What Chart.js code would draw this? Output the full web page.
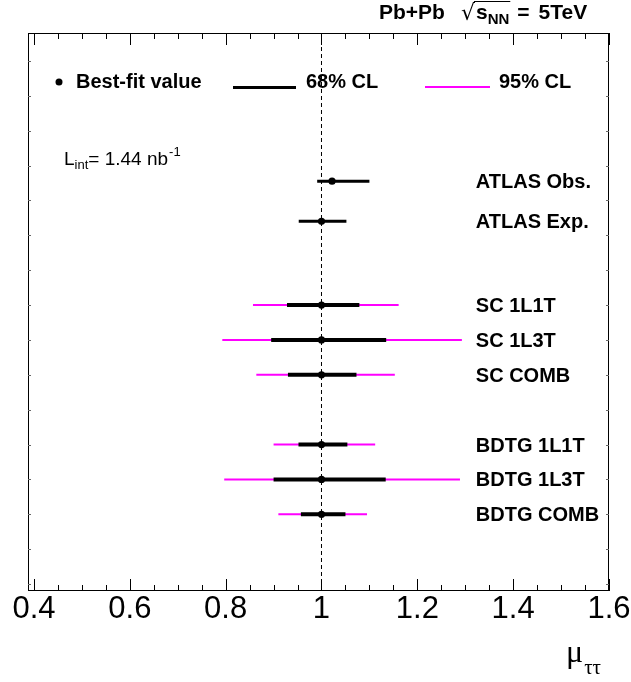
<!DOCTYPE html>
<html>
<head>
<meta charset="utf-8">
<script src="https://cdn.jsdelivr.net/npm/chart.js@4"></script>
<style>
html,body{margin:0;padding:0;background:#fff;}
#wrap{width:631px;height:682px;}
</style>
</head>
<body>
<div id="wrap"><canvas id="c" width="631" height="682"></canvas></div>
<script>
// ---- data ----
const rowLabels = ['ATLAS Obs.', 'ATLAS Exp.', 'SC 1L1T', 'SC 1L3T', 'SC COMB', 'BDTG 1L1T', 'BDTG 1L3T', 'BDTG COMB'];
const rowPos    = [4.25, 5.4, 7.8, 8.8, 9.8, 11.8, 12.8, 13.8];
const bestFit   = [1.022, 1.0, 1.0, 1.0, 1.0, 1.0, 1.0, 1.0];
const lo68      = [0.991, 0.9525, 0.928, 0.895, 0.930, 0.952, 0.900, 0.957];
const hi68      = [1.100, 1.052, 1.079, 1.135, 1.073, 1.054, 1.134, 1.050];
const lo95      = [null, null, 0.857, 0.793, 0.864, 0.900, 0.797, 0.910];
const hi95      = [null, null, 1.161, 1.293, 1.153, 1.112, 1.289, 1.095];
const xTickValues = [0.4, 0.6, 0.8, 1.0, 1.2, 1.4, 1.6];
const xTickLabels = ['0.4', '0.6', '0.8', '1', '1.2', '1.4', '1.6'];
const xMin = 0.3875, xMax = 1.6, yMin = 0, yMax = 16;
const refValue = 1.0;

// ---- build datasets ----
function segs(lo, hi, idx) {
  const out = [];
  idx.forEach(i => {
    if (lo[i] == null || hi[i] == null) return;
    out.push({x: lo[i], y: rowPos[i]}, {x: hi[i], y: rowPos[i]}, {x: hi[i], y: null});
  });
  return out;
}
const allIdx = rowLabels.map((_, i) => i);
const atlasIdx = [0, 1];
const otherIdx = allIdx.slice(2);

const SANS = '"Liberation Sans", Arial, Helvetica, sans-serif';

const decor = {
  id: 'decor',
  afterDraw(chart) {
    const ctx = chart.ctx, a = chart.chartArea;
    const xs = chart.scales.x, ys = chart.scales.y;
    ctx.save();
    // frame
    ctx.strokeStyle = '#000'; ctx.lineWidth = 1;
    ctx.strokeRect(a.left + 0.5, a.top + 0.5, a.right - a.left - 1, a.bottom - a.top - 1);
    // inward x ticks (top and bottom)
    ctx.beginPath();
    for (let k = 0; k <= 24; k++) {
      const v = 0.4 + k * 0.05;
      const px = Math.round(xs.getPixelForValue(v)) + 0.5;
      const len = (k % 4 === 0) ? 12 : 6;
      ctx.moveTo(px, a.bottom); ctx.lineTo(px, a.bottom - len);
      ctx.moveTo(px, a.top); ctx.lineTo(px, a.top + len);
    }
    ctx.stroke();
    // faint short inward y ticks (left and right)
    ctx.strokeStyle = '#666';
    ctx.beginPath();
    for (let v = 0.8; v < yMax; v += 1) {
      const py = Math.round(ys.getPixelForValue(v)) + 0.5;
      ctx.moveTo(a.left, py); ctx.lineTo(a.left + 3, py);
      ctx.moveTo(a.right, py); ctx.lineTo(a.right - 3, py);
    }
    ctx.stroke();

    // row labels
    ctx.fillStyle = '#000';
    ctx.strokeStyle = '#000';
    ctx.textBaseline = 'alphabetic';
    ctx.textAlign = 'left';
    ctx.font = 'bold 20px ' + SANS;
    const labX = xs.getPixelForValue(1.322);
    rowLabels.forEach((t, i) => {
      ctx.fillText(t, labX, ys.getPixelForValue(rowPos[i]) + 7);
    });

    // legend
    const legY = 88;
    ctx.beginPath(); ctx.arc(59, 82, 3.5, 0, Math.PI * 2); ctx.fill();
    ctx.fillText('Best-fit value', 76, legY);
    ctx.lineWidth = 3; ctx.strokeStyle = '#000';
    ctx.beginPath(); ctx.moveTo(233, legY - 0.5); ctx.lineTo(296, legY - 0.5); ctx.stroke();
    ctx.fillText('68% CL', 306, legY);
    ctx.lineWidth = 2; ctx.strokeStyle = '#ff00ff';
    ctx.beginPath(); ctx.moveTo(425, legY - 1); ctx.lineTo(490, legY - 1); ctx.stroke();
    ctx.fillText('95% CL', 499, legY);

    // luminosity
    let x = 64, y = 165;
    ctx.font = '19px ' + SANS;
    ctx.fillText('L', x, y); x += ctx.measureText('L').width;
    ctx.font = '13px ' + SANS;
    ctx.fillText('int', x, y + 4); x += ctx.measureText('int').width;
    ctx.font = '19px ' + SANS;
    ctx.fillText('= 1.44 nb', x, y); x += ctx.measureText('= 1.44 nb').width;
    ctx.font = '13px ' + SANS;
    ctx.fillText('-1', x + 1, y - 9);

    // title
    x = 379; y = 19;
    const TB = 'bold 21px ' + SANS, TS = 'bold 15px ' + SANS;
    ctx.font = TB;
    ctx.fillText('Pb+Pb', x, y); x += ctx.measureText('Pb+Pb').width + 16;
    ctx.font = '22px "DejaVu Sans", sans-serif';
    ctx.fillText('\u221A', x, y + 1);
    const rootW = ctx.measureText('\u221A').width;
    const barStart = x + rootW - 1;
    x += rootW + 1;
    ctx.font = TB;
    ctx.fillText('s', x, y); x += ctx.measureText('s').width;
    ctx.font = TS;
    ctx.fillText('NN', x, y + 5); x += ctx.measureText('NN').width;
    ctx.lineWidth = 1; ctx.strokeStyle = '#000';
    ctx.beginPath(); ctx.moveTo(barStart, 1.5); ctx.lineTo(x + 1, 1.5); ctx.stroke();
    ctx.font = TB;
    x += 8;
    ctx.fillText('=', x, y); x += ctx.measureText('=').width + 9;
    ctx.fillText('5TeV', x, y);

    // axis title
    ctx.font = '32px "Liberation Serif", "DejaVu Serif", serif';
    ctx.fillText('\u03BC', 566, 662);
    const mw = ctx.measureText('\u03BC').width;
    ctx.font = '21px "Liberation Serif", "DejaVu Serif", serif';
    ctx.fillText('\u03C4\u03C4', 566 + mw + 1, 674);
    ctx.restore();
  }
};

// datasets listed top-most first (Chart.js draws the first dataset last)
new Chart(document.getElementById('c'), {
  type: 'scatter',
  data: {
    datasets: [
      {
        data: bestFit.map((v, i) => ({x: v, y: rowPos[i]})),
        showLine: false, pointRadius: 3.6, pointBackgroundColor: '#000', pointBorderWidth: 0
      },
      {
        data: segs(lo68, hi68, atlasIdx),
        showLine: true, borderColor: '#000', borderWidth: 3, pointRadius: 0, spanGaps: false
      },
      {
        data: segs(lo68, hi68, otherIdx),
        showLine: true, borderColor: '#000', borderWidth: 4, pointRadius: 0, spanGaps: false
      },
      {
        data: segs(lo95, hi95, allIdx),
        showLine: true, borderColor: '#ff00ff', borderWidth: 2, pointRadius: 0, spanGaps: false
      },
      {
        data: [{x: refValue, y: yMin}, {x: refValue, y: yMax}],
        showLine: true, borderColor: '#000', borderWidth: 1, borderDash: [4, 3],
        pointRadius: 0
      }
    ]
  },
  options: {
    responsive: false,
    animation: false,
    events: [],
    layout: {padding: {left: 28, right: 22, top: 33, bottom: 0}},
    plugins: {legend: {display: false}, tooltip: {enabled: false}, title: {display: false}},
    scales: {
      x: {
        type: 'linear', min: xMin, max: xMax,
        grid: {display: false, drawTicks: false},
        border: {display: false},
        afterBuildTicks: s => { s.ticks = xTickValues.map(v => ({value: v})); },
        afterFit: s => { s.height = 91; },
        ticks: {
          padding: 0,
          color: '#000',
          font: {family: SANS, size: 31},
          callback: (v, i) => xTickLabels[i]
        }
      },
      y: {
        type: 'linear', min: yMin, max: yMax, reverse: true, display: false
      }
    }
  },
  plugins: [decor]
});
</script>
</body>
</html>
